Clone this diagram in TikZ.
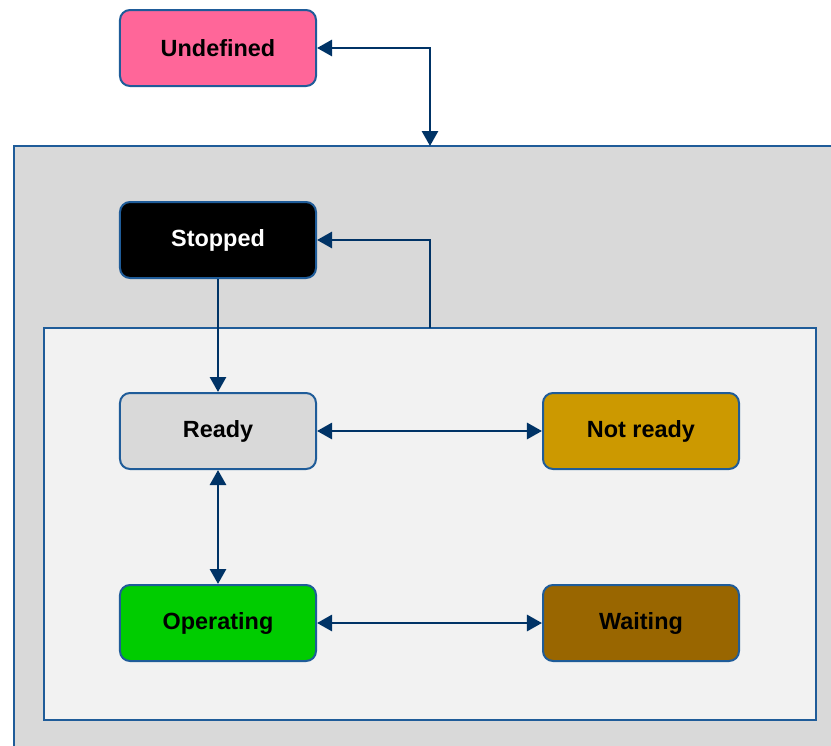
\documentclass[tikz,border=0pt]{standalone}
\usepackage{fontspec}
\setmainfont{Liberation Sans}
\usetikzlibrary{arrows.meta}
\definecolor{edge}{HTML}{1F5C99}
\definecolor{linkcol}{HTML}{003366}
\definecolor{outerfill}{HTML}{D9D9D9}
\definecolor{innerfill}{HTML}{F2F2F2}
\definecolor{undefcol}{HTML}{FF6699}
\definecolor{readycol}{HTML}{D9D9D9}
\definecolor{notreadycol}{HTML}{CC9900}
\definecolor{opercol}{HTML}{00CC00}
\definecolor{waitcol}{HTML}{996600}
\tikzset{>={Triangle[length=0.45cm,width=0.48cm]}}
\tikzstyle{link}=[linkcol,line width=0.085cm]

\begin{document}
\begin{tikzpicture}[
    x=0.03cm,y=-0.03cm,
    box/.style={draw=edge,line width=0.06cm},
    state/.style={draw=edge,line width=0.06cm,rounded corners=0.3cm,
      minimum width=5.88cm,minimum height=2.28cm,inner sep=0pt,
      font=\bfseries\fontsize{20}{24}\selectfont}
  ]
  
  \useasboundingbox (0,0) rectangle (831,745);
  \clip (0,0) rectangle (831,745);
  
  % CONTAINERS
  \draw[box,fill=outerfill] (14,146) rectangle (860,780);
  \draw[box,fill=innerfill] (44,328) rectangle (816,720);
  \coordinate (maintop) at (430,146); % top of outer box
  \coordinate (runtop) at (430,328);  % top of inner box
  
  % STATES
  \node[state,fill=undefcol] (undef) at (218,48) {Undefined};
  \node[state,fill=black,text=white] (stop) at (218,240) {Stopped};
  \node[state,fill=readycol] (ready) at (218,431) {Ready};
  \node[state,fill=notreadycol] (notready) at (641,431) {Not ready};
  \node[state,fill=opercol] (oper) at (218,623) {Operating};
  \node[state,fill=waitcol] (wait) at (641,623) {Waiting};
  
  % TRANSITIONS
  \draw[link,<->] (undef.east) -| (maintop);
  \draw[link,->] (runtop) |- (stop.east);
  \draw[link,->] (stop) -- (ready);
  \draw[link,<->] (ready) -- (notready);
  \draw[link,<->] (ready) -- (oper);
  \draw[link,<->] (oper) -- (wait);
  
\end{tikzpicture}
\end{document}
